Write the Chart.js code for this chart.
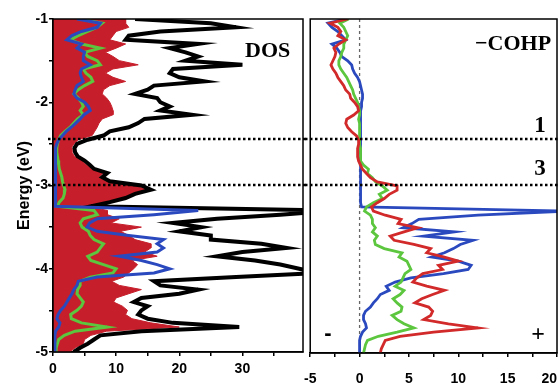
<!DOCTYPE html>
<html>
<head>
<meta charset="utf-8">
<script src="https://cdn.jsdelivr.net/npm/chart.js@4.4.1/dist/chart.umd.min.js"></script>
<style>
html,body{margin:0;padding:0;background:#fff;overflow:hidden;width:558px;height:383px;}
#wrap{position:relative;width:558px;height:383px;overflow:hidden;}
#dos{position:absolute;left:0;top:0;}
#cohp{position:absolute;left:290px;top:0;}
</style>
</head>
<body>
<div id="wrap">
<canvas id="dos" width="306" height="383"></canvas>
<canvas id="cohp" width="330" height="383"></canvas>
</div>
<script>
// energy grid (eV), top to bottom
var energy = [-1.00,-1.05,-1.10,-1.15,-1.20,-1.25,-1.30,-1.35,-1.40,-1.45,
  -1.50,-1.55,-1.60,-1.65,-1.70,-1.75,-1.80,-1.85,-1.90,-1.95,
  -2.00,-2.05,-2.10,-2.15,-2.20,-2.25,-2.30,-2.35,-2.40,-2.45,
  -2.50,-2.55,-2.60,-2.65,-2.70,-2.75,-2.80,-2.85,-2.90,-2.95,
  -3.00,-3.05,-3.10,-3.15,-3.20,-3.25,-3.30,-3.35,-3.40,-3.45,
  -3.50,-3.55,-3.60,-3.65,-3.70,-3.75,-3.80,-3.85,-3.90,-3.95,
  -4.00,-4.05,-4.10,-4.15,-4.20,-4.25,-4.30,-4.35,-4.40,-4.45,
  -4.50,-4.55,-4.60,-4.65,-4.70,-4.75,-4.80,-4.85,-4.90,-4.95,
  -5.00];

// DOS panel
var dosTotal = [13,25,29,17,12,11.5,23,18.5,21,23,
  21,30,19,18.5,20,24,16,15,13,16.5,
  17,18.5,17,22,14.5,13.5,12,9,8,5.5,
  3.8,3.4,3.5,3.9,5,5.8,6.5,8.6,7.8,9,
  14,15.5,13,11.5,9,6,45,36,26,19,
  23.5,20,25,25,33,37,30,26,32,36,
  39,42,29,16,17,23,20,14,12.8,15,
  14,13.5,15,19,29.5,14,7.5,6.5,5.5,4.3,
  3.3];
var dosRed = [11.5,11.5,12,10,9.5,9,11.5,10,8.3,9.5,
  10.5,13.5,9.5,8.3,9.5,11.5,9,8,7.8,8.5,
  9,9.3,9.5,9.5,7.8,7.3,7,6.6,6.2,4,
  3.3,2.9,3,3.4,4.5,5.3,6,8,7.3,8.4,
  13,15,12.5,11,8.5,5.5,8.6,8.6,10.5,9.2,
  14,10.7,12,13,15.5,15.5,14.5,16.5,12.5,13.4,
  12.8,12,11.2,9.3,10.5,14,12,10,9.6,11,
  11.8,11.5,12.5,15.5,20,8.5,6,5,4.8,3.5,
  2.7];
var dosGreen = [4.3,7.8,7,5.5,4,2.7,4.5,7.5,5,5.5,
  7,7.5,4.8,5.2,6,6.3,5,4,3.3,4,
  4.5,4.8,4.3,4.8,3.9,3.3,2.7,1.9,1.2,0.9,
  0.7,0.6,0.6,0.7,0.8,0.9,1,1.2,1.4,1.5,
  1.7,1.9,1.8,1.6,1,0.7,6.5,7,4.8,4.3,
  4.6,5.6,5.9,6.5,8,7.5,7,5.5,6,8,
  10,9.5,5.9,4.3,4.3,3.9,3.8,4.3,4.8,4.5,
  3.8,2.8,2.9,4.5,8.6,3.5,1.8,0.9,0.7,0.5,
  0.5];
var dosBlue = [3.8,7.5,7,4.5,3,2.2,4.5,3.8,5,4.8,
  4.8,5.9,4.5,4.3,4.5,4.8,3.8,3.5,3.3,3.8,
  5,5.6,5.9,4.9,4.3,3.6,2.9,2.1,1.5,0.9,
  0.6,0.4,0.4,0.4,0.4,0.4,0.4,0.4,0.4,0.4,
  0.4,0.4,0.4,0.4,0.4,0.4,23,16,7,5.8,
  5.4,7,12,17.5,16.5,17.5,16.5,10.5,14,16.5,
  18.5,16,7,4,3.8,3.3,3,2.6,2.2,1.8,
  1.2,0.8,0.6,1.1,0.9,0.4,0.3,0.3,0.3,0.3,
  0.3];

// -COHP panel
var cohpRed = [-1.2,-3,-2.2,-1.9,-2.2,-1.4,-2.1,-2.6,-2.4,-2.5,
  -2.7,-2.9,-2.7,-2.4,-2.2,-1.9,-1.6,-1.4,-1,-0.9,
  -0.5,-0.2,-0.1,-0.6,-1.3,-1.4,-1.2,-0.8,-0.3,-0.1,
  -0.1,-0.2,-0.2,-0.2,-0.1,0.1,0.3,0.7,1.1,1.8,
  3.8,3.8,3,2.5,1.8,1.2,1.4,2.6,4.2,3.9,
  5.9,4.5,3.1,3.5,5.5,7.2,6.8,8.5,10,8,
  8.4,6.4,5.8,5.4,6.8,8.6,7.4,6.3,5.6,7,
  7.4,7.2,6.5,9,12,7.5,4.1,2.6,2.4,2.2,
  2.1];
var cohpGreen = [-1.1,-2,-1.6,-1.4,-1.2,-1.4,-1.6,-1.6,-1.8,-1.9,
  -2.1,-2.1,-1.9,-1.6,-1.3,-1.1,-0.9,-0.7,-0.6,-0.4,
  -0.2,-0.1,0,0,-0.1,0,0,0,0,0,
  0,0.1,0.1,0.1,0.1,0.4,0.9,0.8,1.3,1.6,
  2.3,2.8,2,2.3,1.4,0.7,0.5,1.1,1.3,1.3,
  1.6,1.3,1.8,1.5,1.6,2.5,4.3,4,4.8,5,
  5.2,4.6,4.4,4.2,3.6,4.5,4.1,3.4,3.8,4.3,
  4.2,3.3,3.8,4.5,5.5,3.8,1.9,0.8,0.6,0.5,
  0.4];
var cohpBlue = [-1.4,-3.2,-2.8,-2.2,-1.8,-1.4,-2.8,-2.3,-2,-1.8,
  -1.2,-0.8,-0.7,-0.5,-0.2,0,0.1,0.2,0.3,0.3,
  0.2,0.2,0.1,0.1,0.1,0.1,0.1,0.1,0.1,0.1,
  0.1,0.1,0.1,0.1,0.1,0.1,0.1,0.1,0.1,0.1,
  0.1,0.1,0.1,0.1,0.1,0.2,21,12,6,5.3,
  4.4,9.6,6.5,11.5,10.2,9.5,8.6,7.3,10,11.3,
  11,8.5,5.2,3.6,2.7,3,2.1,1.8,1.4,1.1,
  0.6,0.4,0.4,0.6,0.7,0.3,0.1,0,0,0,
  0];

var energyTicks = [-1,-2,-3,-4,-5];
var dosTicks = [0,10,20,30];
var cohpTicks = [-5,0,5,10,15,20];
var levelLines = [-2.44,-2.99]; // dotted lines, labelled 1 and 3

var RED = '#c61f2b', GREEN = '#5cc63e', BLUE = '#2b49bf';
var tickFont = {family:'Liberation Sans', weight:'bold', size:14};

function pts(vals){
  return energy.map(function(e,i){ return {x: vals[i], y: e}; });
}
function line(vals, color, w){
  return {data: pts(vals), borderColor: color, borderWidth: w, pointRadius: 0, fill: false, tension: 0};
}

// frame, dotted levels and text labels
function decor(offset, lineFrom, labels){
  return {
    id: 'decor',
    afterDatasetsDraw: function(chart){
      var ctx = chart.ctx, a = chart.chartArea, ys = chart.scales.y;
      ctx.save();
      ctx.strokeStyle = '#000';
      ctx.lineWidth = 1.5;
      ctx.strokeRect(a.left, a.top, a.right - a.left, a.bottom - a.top);
      ctx.setLineDash([2.5,2.5]);
      ctx.lineWidth = 2.5;
      levelLines.forEach(function(e){
        var py = Math.round(ys.getPixelForValue(e));
        ctx.beginPath();
        ctx.moveTo(lineFrom - offset, py);
        ctx.lineTo(chart.width, py);
        ctx.stroke();
      });
      ctx.setLineDash([]);
      ctx.fillStyle = '#000';
      labels.forEach(function(l){
        ctx.font = l.font;
        ctx.textAlign = l.align;
        ctx.textBaseline = 'alphabetic';
        ctx.fillText(l.t, l.x - offset, l.y);
      });
      ctx.restore();
    }
  };
}

function xAxis(min, max, step, shown, pad, h){
  return {
    type: 'linear', min: min, max: max, position: 'bottom',
    border: {display: true, color: '#000', width: 1.5},
    grid: {drawOnChartArea: false, drawTicks: true, tickLength: 4, color: '#000', lineWidth: 1.5},
    ticks: {stepSize: step, includeBounds: false, autoSkip: false, maxRotation: 0, padding: pad,
      color: '#000', font: tickFont,
      callback: function(v){
        if (shown.indexOf(v) < 0) return '';
        // last label sits against the page edge, pad it so it stays readable
        return v === max ? v + '\u2007\u2007' : v;
      }},
    afterFit: function(s){ s.height = h; }
  };
}

new Chart(document.getElementById('dos'), {
  type: 'line',
  data: {datasets: [
    line(dosBlue, BLUE, 3),
    line(dosGreen, GREEN, 3),
    line(dosTotal, '#000', 4),
    {data: pts(dosRed), borderColor: RED, backgroundColor: RED, borderWidth: 1, pointRadius: 0, fill: 'origin', tension: 0}
  ]},
  options: {
    indexAxis: 'y',
    responsive: false,
    animation: false,
    devicePixelRatio: 1,
    layout: {padding: {top: 19, right: 3, left: 0, bottom: 0}},
    plugins: {legend: {display: false}, tooltip: {enabled: false}},
    scales: {
      x: xAxis(0, 39.6, 5, dosTicks, 5, 31),
      y: {
        type: 'linear', min: -5, max: -1,
        border: {display: true, color: '#000', width: 1.5},
        grid: {drawOnChartArea: false, drawTicks: true, tickLength: 4, color: '#000', lineWidth: 1.5},
        ticks: {stepSize: 0.5, padding: 1, color: '#000', font: tickFont,
          callback: function(v){ return energyTicks.indexOf(v) >= 0 ? v : ''; }},
        title: {display: true, text: 'Energy (eV)', color: '#000',
          font: {family: 'Liberation Sans', weight: 'bold', size: 16}, padding: {top: 15, bottom: 0}},
        afterFit: function(s){ s.width = 53; }
      }
    }
  },
  plugins: [decor(0, 48, [
    {t: 'DOS', x: 245, y: 57, font: 'bold 22px "Liberation Serif"', align: 'left'}
  ])]
});

// canvas runs past the page edge; chart area ends at page x 557
new Chart(document.getElementById('cohp'), {
  type: 'line',
  data: {datasets: [
    line(cohpRed, '#d22a2a', 2.8),
    line(cohpGreen, GREEN, 2.8),
    line(cohpBlue, BLUE, 2.8),
    {data: [{x: 0, y: -1}, {x: 0, y: -5}], borderColor: '#666', borderWidth: 1.3, borderDash: [3,3], pointRadius: 0, fill: false}
  ]},
  options: {
    indexAxis: 'y',
    responsive: false,
    animation: false,
    devicePixelRatio: 1,
    layout: {padding: {top: 19, right: 63, left: 19, bottom: 0}},
    plugins: {legend: {display: false}, tooltip: {enabled: false}},
    scales: {
      x: xAxis(-5, 20, 2.5, cohpTicks, 14, 30),
      y: {type: 'linear', min: -5, max: -1, display: false}
    }
  },
  plugins: [decor(290, 305, [
    {t: '\u2212COHP', x: 475, y: 50, font: 'bold 22px "Liberation Serif"', align: 'left'},
    {t: '1', x: 540, y: 132, font: 'bold 23px "Liberation Serif"', align: 'center'},
    {t: '3', x: 540, y: 175, font: 'bold 23px "Liberation Serif"', align: 'center'},
    {t: '-', x: 328, y: 340, font: 'bold 22px "Liberation Sans"', align: 'center'},
    {t: '+', x: 538, y: 341, font: 'bold 24px "Liberation Serif"', align: 'center'}
  ])]
});
</script>
</body>
</html>
